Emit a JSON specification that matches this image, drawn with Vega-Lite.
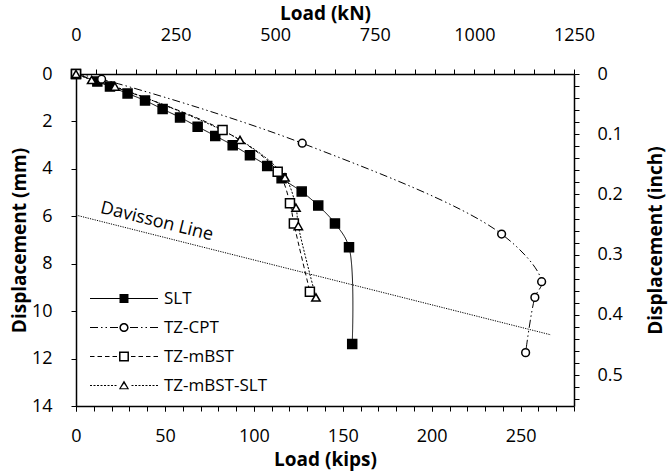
{
  "$schema": "https://vega.github.io/schema/vega-lite/v6.json",
  "width": 498,
  "height": 332,
  "autosize": "none",
  "padding": {"left": 76, "top": 74, "right": 97, "bottom": 69},
  "background": "white",
  "config": {
    "font": "Open Sans",
    "view": {"stroke": null},
    "axis": {
      "grid": false,
      "domainColor": "black",
      "domainWidth": 1.5,
      "tickColor": "black",
      "tickWidth": 1,
      "tickSize": 5,
      "labelColor": "black",
      "labelFont": "Open Sans",
      "labelFontSize": 18,
      "labelOverlap": false,
      "labelFlush": false,
      "labelBound": false,
      "titleColor": "black",
      "titleFont": "Open Sans",
      "titleFontSize": 19,
      "titleFontWeight": "bold"
    }
  },
  "datasets": {
    "curves": [
      {"s": "SLT", "i": 0, "kips": 0, "mm": 0},
      {"s": "SLT", "i": 1, "kips": 12.0, "mm": 0.32},
      {"s": "SLT", "i": 2, "kips": 19.1, "mm": 0.53},
      {"s": "SLT", "i": 3, "kips": 29.0, "mm": 0.82},
      {"s": "SLT", "i": 4, "kips": 38.8, "mm": 1.12},
      {"s": "SLT", "i": 5, "kips": 48.7, "mm": 1.48},
      {"s": "SLT", "i": 6, "kips": 58.5, "mm": 1.83},
      {"s": "SLT", "i": 7, "kips": 68.4, "mm": 2.22},
      {"s": "SLT", "i": 8, "kips": 78.3, "mm": 2.61},
      {"s": "SLT", "i": 9, "kips": 88.1, "mm": 3.0},
      {"s": "SLT", "i": 10, "kips": 97.8, "mm": 3.43},
      {"s": "SLT", "i": 11, "kips": 107.5, "mm": 3.88},
      {"s": "SLT", "i": 12, "kips": 115.6, "mm": 4.4},
      {"s": "SLT", "i": 13, "kips": 126.9, "mm": 4.96},
      {"s": "SLT", "i": 14, "kips": 136.2, "mm": 5.55},
      {"s": "SLT", "i": 15, "kips": 145.6, "mm": 6.3},
      {"s": "SLT", "i": 16, "kips": 153.5, "mm": 7.31},
      {"s": "SLT", "i": 17, "kips": 155.3, "mm": 11.39},
      {"s": "TZ-CPT", "i": 0, "kips": 0, "mm": 0},
      {"s": "TZ-CPT", "i": 1, "kips": 14.4, "mm": 0.22},
      {"s": "TZ-CPT", "i": 2, "kips": 127.2, "mm": 2.92},
      {"s": "TZ-CPT", "i": 3, "kips": 239.3, "mm": 6.75},
      {"s": "TZ-CPT", "i": 4, "kips": 261.8, "mm": 8.76},
      {"s": "TZ-CPT", "i": 5, "kips": 258.0, "mm": 9.42},
      {"s": "TZ-CPT", "i": 6, "kips": 252.8, "mm": 11.75},
      {"s": "TZ-mBST", "i": 0, "kips": 0, "mm": 0},
      {"s": "TZ-mBST", "i": 1, "kips": 82.4, "mm": 2.36},
      {"s": "TZ-mBST", "i": 2, "kips": 113.4, "mm": 4.12},
      {"s": "TZ-mBST", "i": 3, "kips": 120.3, "mm": 5.45},
      {"s": "TZ-mBST", "i": 4, "kips": 122.5, "mm": 6.3},
      {"s": "TZ-mBST", "i": 5, "kips": 131.5, "mm": 9.18},
      {"s": "TZ-mBST-SLT", "i": 0, "kips": 0, "mm": 0},
      {"s": "TZ-mBST-SLT", "i": 1, "kips": 8.8, "mm": 0.25},
      {"s": "TZ-mBST-SLT", "i": 2, "kips": 21.9, "mm": 0.53},
      {"s": "TZ-mBST-SLT", "i": 3, "kips": 92.2, "mm": 2.78},
      {"s": "TZ-mBST-SLT", "i": 4, "kips": 117.5, "mm": 4.36},
      {"s": "TZ-mBST-SLT", "i": 5, "kips": 123.7, "mm": 5.64},
      {"s": "TZ-mBST-SLT", "i": 6, "kips": 125.0, "mm": 6.41},
      {"s": "TZ-mBST-SLT", "i": 7, "kips": 134.9, "mm": 9.42}
    ],
    "davisson": [
      {"kips": 0, "mm": 5.95},
      {"kips": 267, "mm": 11.0}
    ],
    "notes": [
      {"label": "Davisson Line", "kips": 45.4, "mm": 6.23}
    ],
    "units": [
      {"kN": 0, "inch": 0},
      {"kN": 1250, "inch": 0.55}
    ]
  },
  "layer": [
    {
      "layer": [
        {
          "data": {"name": "davisson"},
          "mark": {"type": "line", "color": "black", "strokeWidth": 1, "strokeDash": [1.2, 1.2]},
          "encoding": {
            "x": {
              "field": "kips", "type": "quantitative",
              "scale": {"domain": [0, 280], "nice": false, "zero": false},
              "axis": {
                "orient": "bottom",
                "title": "Load (kips)",
                "values": [0, 50, 100, 150, 200, 250],
                "labelOverlap": false,
                "labelPadding": 16,
                "titlePadding": 5
              }
            },
            "y": {
              "field": "mm", "type": "quantitative",
              "scale": {"domain": [0, 14], "nice": false, "zero": false, "reverse": true},
              "axis": {
                "orient": "left",
                "title": "Displacement (mm)",
                "values": [0,0.5,1,1.5,2,2.5,3,3.5,4,4.5,5,5.5,6,6.5,7,7.5,8,8.5,9,9.5,10,10.5,11,11.5,12,12.5,13,13.5,14],
                "labelExpr": "datum.value % 2 === 0 ? datum.label : ''",
                "labelOverlap": false,
                "labelPadding": 19,
                "titlePadding": 2
              }
            }
          }
        },
        {
          "data": {"name": "curves"},
          "mark": {"type": "line", "color": "black", "strokeWidth": 1, "interpolate": "catmull-rom"},
          "encoding": {
            "x": {"field": "kips", "type": "quantitative"},
            "y": {"field": "mm", "type": "quantitative"},
            "order": {"field": "i", "type": "quantitative"},
            "strokeDash": {
              "field": "s", "type": "nominal",
              "scale": {"range": [[1, 0], [8, 3, 1.5, 3, 1.5, 3], [4.5, 3], [2, 1.5]]},
              "legend": null
            }
          }
        },
        {
          "data": {"name": "curves"},
          "transform": [{"filter": "datum.s === 'SLT'"}],
          "mark": {"type": "point", "shape": "square", "size": 81, "filled": true, "fill": "black", "stroke": "black", "strokeWidth": 1.5, "opacity": 1},
          "encoding": {
            "x": {"field": "kips", "type": "quantitative"},
            "y": {"field": "mm", "type": "quantitative"}
          }
        },
        {
          "data": {"name": "curves"},
          "transform": [{"filter": "datum.s === 'TZ-CPT'"}],
          "mark": {"type": "point", "shape": "circle", "size": 60, "filled": true, "fill": "white", "stroke": "black", "strokeWidth": 1.5, "opacity": 1},
          "encoding": {
            "x": {"field": "kips", "type": "quantitative"},
            "y": {"field": "mm", "type": "quantitative"}
          }
        },
        {
          "data": {"name": "curves"},
          "transform": [{"filter": "datum.s === 'TZ-mBST'"}],
          "mark": {"type": "point", "shape": "square", "size": 81, "filled": true, "fill": "white", "stroke": "black", "strokeWidth": 1.5, "opacity": 1},
          "encoding": {
            "x": {"field": "kips", "type": "quantitative"},
            "y": {"field": "mm", "type": "quantitative"}
          }
        },
        {
          "data": {"name": "curves"},
          "transform": [{"filter": "datum.s === 'TZ-mBST-SLT'"}],
          "mark": {"type": "point", "shape": "triangle-up", "size": 70, "filled": true, "fill": "white", "stroke": "black", "strokeWidth": 1.5, "opacity": 1},
          "encoding": {
            "x": {"field": "kips", "type": "quantitative"},
            "y": {"field": "mm", "type": "quantitative"}
          }
        },
        {
          "data": {"name": "notes"},
          "mark": {"type": "text", "font": "Open Sans", "fontSize": 18, "angle": 14, "align": "center", "baseline": "middle", "color": "black"},
          "encoding": {
            "x": {"field": "kips", "type": "quantitative"},
            "y": {"field": "mm", "type": "quantitative"},
            "text": {"field": "label"}
          }
        },
        {
          "data": {"name": "curves"},
          "transform": [{"filter": "false"}],
          "mark": {"type": "point", "filled": true, "fill": "black", "strokeWidth": 0, "opacity": 1},
          "encoding": {
            "x": {"field": "kips", "type": "quantitative"},
            "y": {"field": "mm", "type": "quantitative"},
            "shape": {
              "field": "s", "type": "nominal",
              "scale": {
                "domain": ["SLT", "TZ-CPT", "TZ-mBST", "TZ-mBST-SLT"],
                "range": [
                  "M-1,-0.016H1V0.016H-1ZM-0.132,-0.132H0.132V0.132H-0.132Z",
                  "M-1,-0.016H-0.765V0.016H-1ZM-0.676,-0.016H-0.632V0.016H-0.676ZM-0.544,-0.016H-0.5V0.016H-0.544ZM-0.412,-0.016H-0.176V0.016H-0.412ZM0.176,-0.016H0.412V0.016H0.176ZM0.5,-0.016H0.544V0.016H0.5ZM0.632,-0.016H0.676V0.016H0.632ZM0.765,-0.016H1V0.016H0.765ZM0.135,0A0.135,0.135,0,1,1,-0.135,0A0.135,0.135,0,1,1,0.135,0ZM0.091,0A0.091,0.091,0,1,0,-0.091,0A0.091,0.091,0,1,0,0.091,0Z",
                  "M-1,-0.016H-0.868V0.016H-1ZM-0.779,-0.016H-0.647V0.016H-0.779ZM-0.559,-0.016H-0.426V0.016H-0.559ZM-0.338,-0.016H-0.206V0.016H-0.338ZM0.206,-0.016H0.338V0.016H0.206ZM0.426,-0.016H0.559V0.016H0.426ZM0.647,-0.016H0.779V0.016H0.647ZM0.868,-0.016H1V0.016H0.868ZM-0.146,-0.146H0.146V0.146H-0.146ZM-0.102,-0.102V0.102H0.102V-0.102Z",
                  "M-1,-0.016H-0.941V0.016H-1ZM-0.897,-0.016H-0.838V0.016H-0.897ZM-0.794,-0.016H-0.735V0.016H-0.794ZM-0.691,-0.016H-0.632V0.016H-0.691ZM-0.588,-0.016H-0.529V0.016H-0.588ZM-0.485,-0.016H-0.426V0.016H-0.485ZM-0.382,-0.016H-0.324V0.016H-0.382ZM-0.279,-0.016H-0.221V0.016H-0.279ZM0.221,-0.016H0.279V0.016H0.221ZM0.324,-0.016H0.382V0.016H0.324ZM0.426,-0.016H0.485V0.016H0.426ZM0.529,-0.016H0.588V0.016H0.529ZM0.632,-0.016H0.691V0.016H0.632ZM0.735,-0.016H0.794V0.016H0.735ZM0.838,-0.016H0.897V0.016H0.838ZM0.941,-0.016H1V0.016H0.941ZM0,-0.15L0.15,0.11L-0.15,0.11ZM0,-0.06L-0.095,0.08L0.095,0.08Z"
                ]
              },
              "legend": {
                "title": null,
                "orient": "none",
                "legendX": 14,
                "legendY": 210,
                "symbolSize": 4624,
                "symbolOpacity": 1,
                "symbolStrokeWidth": 0,
                "clipHeight": 29,
                "labelFont": "Open Sans",
                "labelFontSize": 17,
                "labelColor": "black",
                "labelOffset": 6,
                "rowPadding": 0
              }
            }
          }
        }
      ]
    },
    {
      "data": {"name": "davisson"},
      "mark": {"type": "point", "opacity": 0},
      "encoding": {
        "x": {
          "field": "kips", "type": "quantitative",
          "scale": {"domain": [0, 280], "nice": false, "zero": false},
          "axis": {
            "orient": "bottom",
            "title": null,
            "labels": false,
            "domain": false,
            "values": [0,10,20,30,40,50,60,70,80,90,100,110,120,130,140,150,160,170,180,190,200,210,220,230,240,250,260,270,280]
          }
        }
      }
    },
    {
      "data": {"name": "units"},
      "mark": {"type": "point", "opacity": 0},
      "encoding": {
        "x": {
          "field": "kN", "type": "quantitative",
          "scale": {"domain": [0, 1250], "nice": false, "zero": false},
          "axis": {
            "orient": "top",
            "title": "Load (kN)",
            "values": [0,50,100,150,200,250,300,350,400,450,500,550,600,650,700,750,800,850,900,950,1000,1050,1100,1150,1200,1250],
            "labelExpr": "datum.value % 250 === 0 ? datum.label : ''",
            "labelOverlap": false,
            "format": "d",
            "labelPadding": 25,
            "titlePadding": 3
          }
        },
        "y": {
          "field": "inch", "type": "quantitative",
          "scale": {"domain": [0, 0.5512], "nice": false, "zero": false, "reverse": true},
          "axis": {
            "orient": "right",
            "title": "Displacement (inch)",
            "titleAngle": 270,
            "values": [0,0.02,0.04,0.06,0.08,0.1,0.12,0.14,0.16,0.18,0.2,0.22,0.24,0.26,0.28,0.3,0.32,0.34,0.36,0.38,0.4,0.42,0.44,0.46,0.48,0.5,0.52,0.54],
            "labelExpr": "round(datum.value * 100) % 10 === 0 ? (datum.value === 0 ? '0' : format(datum.value, '.1f')) : ''",
            "labelOverlap": false,
            "labelPadding": 18,
            "titlePadding": 43
          }
        }
      }
    }
  ],
  "resolve": {"scale": {"x": "independent", "y": "independent"}}
}
